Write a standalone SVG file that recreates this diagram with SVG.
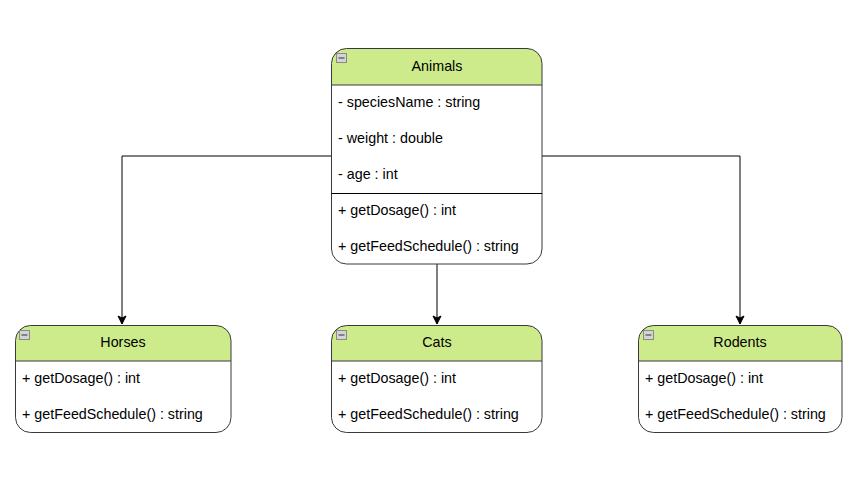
<svg xmlns="http://www.w3.org/2000/svg" width="857" height="497" viewBox="0 0 857 497">
  <style>
    .frame { fill: none; stroke: #36393d; stroke-width: 1; }
    .head { fill: #cdeb8b; }
    .sep { stroke: #36393d; stroke-width: 1; fill: none; }
    .div { stroke: #000000; stroke-width: 1; fill: none; }
    .title { font-family: "Liberation Sans", Arial, sans-serif; font-size: 14.3px; fill: #000000; text-anchor: middle; }
    .item { font-family: "Liberation Sans", Arial, sans-serif; font-size: 14.3px; fill: #000000; }
    .edge { stroke: #000000; stroke-width: 1; fill: none; }
    .toggle-box { fill: #d4d4d4; stroke: #8a8a8a; stroke-width: 1; }
    .toggle-bar { stroke: #333333; stroke-width: 1; }
  </style>
  <defs>
    <marker id="arrow" markerWidth="10" markerHeight="10" refX="9" refY="5" orient="auto" markerUnits="userSpaceOnUse">
      <path d="M1,1 L9,5 L1,9 L3,5 Z" fill="#000000" stroke="#000000" stroke-width="1"/>
    </marker>
    <g id="toggle">
      <rect class="toggle-box" x="0.5" y="0.5" width="10" height="9"/>
      <line class="toggle-bar" x1="2.5" y1="5" x2="8.5" y2="5"/>
    </g>
  </defs>

  <rect width="857" height="497" fill="#ffffff"/>

  <g id="connectors">
    <path class="edge" d="M331,156 H122 V324" marker-end="url(#arrow)"/>
    <path class="edge" d="M437,264 V324" marker-end="url(#arrow)"/>
    <path class="edge" d="M542,156 H740 V324" marker-end="url(#arrow)"/>
  </g>

  <g id="animals">
    <path class="head" d="M346,48.5 H527 A15,15 0 0 1 542,63.5 V85 H331.5 V63.5 A15,15 0 0 1 346,48.5 Z"/>
    <rect class="frame" x="331.5" y="48.5" width="210.5" height="215.5" rx="15" ry="15"/>
    <line class="sep" x1="331.5" y1="85" x2="542" y2="85"/>
    <line class="div" x1="331.5" y1="193.5" x2="542" y2="193.5"/>
    <use href="#toggle" x="336" y="53"/>
    <text class="title" x="437" y="71">Animals</text>
    <text class="item" x="338" y="107">- speciesName : string</text>
    <text class="item" x="338" y="143">- weight : double</text>
    <text class="item" x="338" y="179">- age : int</text>
    <text class="item" x="338" y="215">+ getDosage() : int</text>
    <text class="item" x="338" y="251">+ getFeedSchedule() : string</text>
  </g>

  <g id="horses">
    <path class="head" d="M30,325.5 H216 A15,15 0 0 1 231,340.5 V361 H15.5 V340.5 A15,15 0 0 1 30,325.5 Z"/>
    <rect class="frame" x="15.5" y="325.5" width="215.5" height="107" rx="15" ry="15"/>
    <line class="sep" x1="15.5" y1="361" x2="231" y2="361"/>
    <use href="#toggle" x="19" y="330"/>
    <text class="title" x="123" y="347">Horses</text>
    <text class="item" x="22" y="383">+ getDosage() : int</text>
    <text class="item" x="22" y="419">+ getFeedSchedule() : string</text>
  </g>

  <g id="cats">
    <path class="head" d="M346,325.5 H527 A15,15 0 0 1 542,340.5 V361 H331.5 V340.5 A15,15 0 0 1 346,325.5 Z"/>
    <rect class="frame" x="331.5" y="325.5" width="210.5" height="107" rx="15" ry="15"/>
    <line class="sep" x1="331.5" y1="361" x2="542" y2="361"/>
    <use href="#toggle" x="336" y="330"/>
    <text class="title" x="437" y="347">Cats</text>
    <text class="item" x="338" y="383">+ getDosage() : int</text>
    <text class="item" x="338" y="419">+ getFeedSchedule() : string</text>
  </g>

  <g id="rodents">
    <path class="head" d="M653,325.5 H827 A15,15 0 0 1 842,340.5 V361 H638.5 V340.5 A15,15 0 0 1 653,325.5 Z"/>
    <rect class="frame" x="638.5" y="325.5" width="203.5" height="107" rx="15" ry="15"/>
    <line class="sep" x1="638.5" y1="361" x2="842" y2="361"/>
    <use href="#toggle" x="643" y="330"/>
    <text class="title" x="740" y="347">Rodents</text>
    <text class="item" x="645" y="383">+ getDosage() : int</text>
    <text class="item" x="645" y="419">+ getFeedSchedule() : string</text>
  </g>
</svg>
